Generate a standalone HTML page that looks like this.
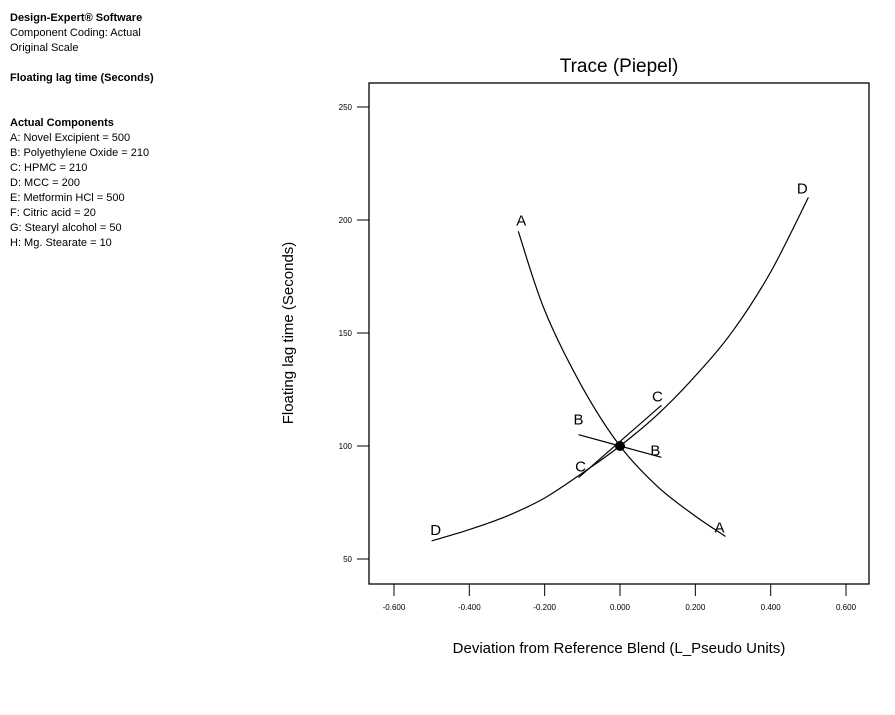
<!DOCTYPE html>
<html><head><meta charset="utf-8"><style>
body{margin:0;background:#fff;font-family:"Liberation Sans",sans-serif;}
#info{position:absolute;left:10px;top:11px;font-size:11px;line-height:15px;color:#000;}
#info b{font-weight:bold}
</style></head><body>
<div id="info">
<div><b>Design-Expert® Software</b></div>
<div>Component Coding: Actual</div>
<div>Original Scale</div>
<div>&nbsp;</div>
<div><b>Floating lag time (Seconds)</b></div>
<div>&nbsp;</div><div>&nbsp;</div>
<div><b>Actual Components</b></div>
<div>A: Novel Excipient = 500</div>
<div>B: Polyethylene Oxide = 210</div>
<div>C: HPMC = 210</div>
<div>D: MCC = 200</div>
<div>E: Metformin HCl = 500</div>
<div>F: Citric acid = 20</div>
<div>G: Stearyl alcohol = 50</div>
<div>H: Mg. Stearate = 10</div>
</div>
<svg id="chart" width="895" height="715" style="position:absolute;left:0;top:0"></svg>
<script>
const xTicks=[-0.6,-0.4,-0.2,0,0.2,0.4,0.6];
const xTickLabels=["-0.600","-0.400","-0.200","0.000","0.200","0.400","0.600"];
const yTicks=[50,100,150,200,250];
const aX=[-0.27,-0.2,-0.1,0,0.1,0.2,0.28];
const aY=[195,160,126,100,82,69,60];
const dX=[-0.5,-0.4,-0.3,-0.2,-0.1,0,0.1,0.2,0.3,0.4,0.5];
const dY=[58,63,69,77,88,100,114,131,151,177,210];
const bX=[-0.11,0.11];
const bY=[105,95];
const cX=[-0.11,0.11];
const cY=[86,118];
const refX=0, refY=100;

const NS="http://www.w3.org/2000/svg";
const svg=document.getElementById('chart');
const sx=v=>620+v*376.7;
const sy=v=>446-(v-100)*2.26;
function el(t,a,p){const e=document.createElementNS(NS,t);for(const k in a)e.setAttribute(k,a[k]);(p||svg).appendChild(e);return e;}
function txt(x,y,s,size,anchor,extra){const t=el('text',Object.assign({x:x,y:y,'font-size':size,'text-anchor':anchor||'middle','font-family':'Liberation Sans, sans-serif'},extra||{}));t.textContent=s;return t;}

const frame=el('rect',{x:369,y:83,width:500,height:501,fill:'none',stroke:'#000','stroke-width':1.3});



xTicks.forEach((v,i)=>{
  const l=el('line',{x1:sx(v),x2:sx(v),y1:584,y2:596,stroke:'#000'});
  
  
  const t=txt(sx(v),610,xTickLabels[i],8);
  
  
});
yTicks.forEach(v=>{
  const l=el('line',{x1:357,x2:369,y1:sy(v),y2:sy(v),stroke:'#000'});
  
  
  const t=txt(352,sy(v)+3,String(v),8,'end');
  
  
});

const title=txt(619,72,'Trace (Piepel)',19);


const xt=txt(619,653,'Deviation from Reference Blend (L_Pseudo Units)',15);


const yt=txt(0,0,'Floating lag time (Seconds)',15,'middle',{transform:'translate(293,333) rotate(-90)'});



function curve(xs,ys,name){
  const P=xs.map((x,i)=>[sx(x),sy(ys[i])]);
  let d='M'+P[0][0].toFixed(1)+','+P[0][1].toFixed(1);
  for(let i=0;i<P.length-1;i++){
    const p0=P[Math.max(0,i-1)],p1=P[i],p2=P[i+1],p3=P[Math.min(P.length-1,i+2)];
    const c1=[p1[0]+(p2[0]-p0[0])/6,p1[1]+(p2[1]-p0[1])/6];
    const c2=[p2[0]-(p3[0]-p1[0])/6,p2[1]-(p3[1]-p1[1])/6];
    d+='C'+c1.map(v=>v.toFixed(1)).join(',')+' '+c2.map(v=>v.toFixed(1)).join(',')+' '+p2.map(v=>v.toFixed(1)).join(',');
  }
  const p=el('path',{d:d,fill:'none',stroke:'#000','stroke-width':1.2});
  
  
}
curve(aX,aY,'trace-a');
curve(dX,dY,'trace-d');
curve(bX,bY,'trace-b');
curve(cX,cY,'trace-c');

const dot=el('circle',{cx:sx(refX),cy:sy(refY),r:5,fill:'#000'});



function lab(xs,ys,letter,which,dx,dy){
  const i=which==='start'?0:xs.length-1;
  const t=txt(sx(xs[i])+dx,sy(ys[i])+dy,letter,15);
  
  
}
lab(aX,aY,'A','start',3,-6);
lab(aX,aY,'A','end',-6,-4);
lab(dX,dY,'D','start',4,-6);
lab(dX,dY,'D','end',-6,-4);
lab(bX,bY,'B','start',0,-10);
lab(bX,bY,'B','end',-6,-2);
lab(cX,cY,'C','start',2,-6);
lab(cX,cY,'C','end',-4,-4);
</script>
</body></html>
